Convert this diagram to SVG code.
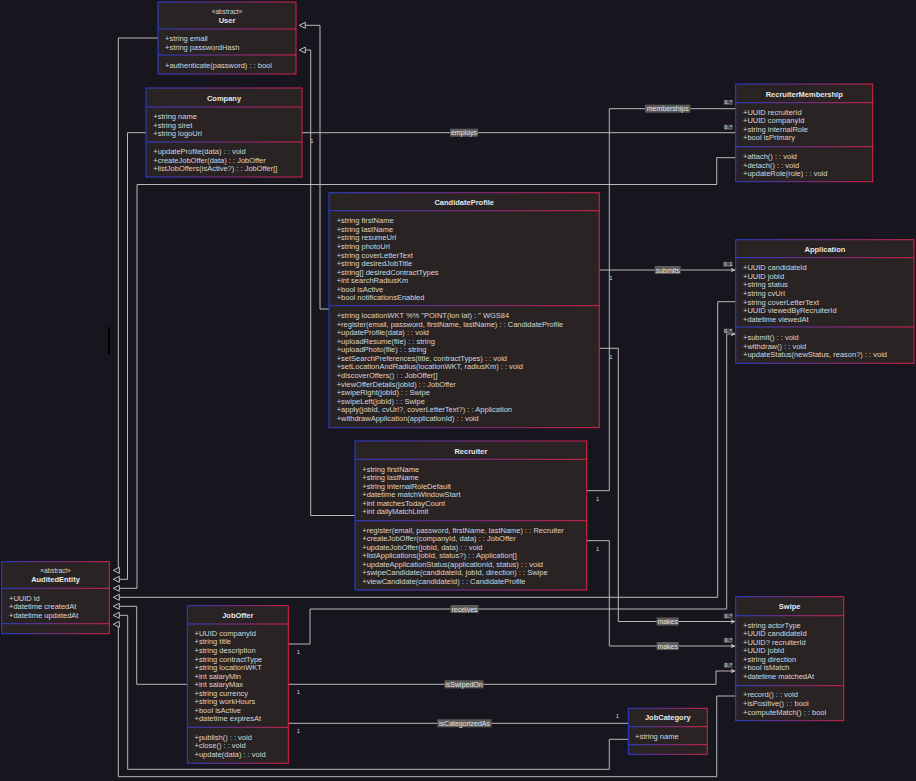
<svg xmlns="http://www.w3.org/2000/svg" width="916" height="781" viewBox="0 0 916 781">
<defs>
<linearGradient id="bd" x1="0" y1="0" x2="1" y2="0">
<stop offset="0" stop-color="#2c3ed6"/>
<stop offset="1" stop-color="#dc2048"/>
</linearGradient>
<marker id="ar" markerUnits="userSpaceOnUse" markerWidth="6" markerHeight="6" refX="5" refY="2.5" orient="auto">
<path d="M0,0 L5,2.5 L0,5 L1.5,2.5 z" fill="#c0c0c0"/>
</marker>
<path id="tri" d="M0,0 L6,-3 L6,3 z"/>
</defs>
<style>
.bg{fill:#17161f}
.box{fill:#2a2323;stroke:url(#bd);stroke-width:1}
.dv{fill:url(#bd)}
text{font-family:"Liberation Sans",Arial,sans-serif}
.t{font-size:7.5px;fill:#d6d6d6}
.h{font-size:7.5px;fill:#e8e8e8;font-weight:bold;text-anchor:middle}
.s{font-size:6.5px;fill:#d6d6d6;text-anchor:middle}
.c{fill:none;stroke:#b8b8b8;stroke-width:1}
.a{marker-end:url(#ar)}
.tr{fill:#17161f;stroke:#c0c0c0;stroke-width:1}
.lb{fill:#5a5a5a}
.lt{font-size:7px;fill:#e6e6e6;text-anchor:middle}
.mb{fill:#4a4a4a}
.mt{font-size:5px;fill:#e6e6e6;text-anchor:middle}
</style>
<rect class="bg" x="0" y="0" width="916" height="781"/>
<rect x="108" y="327" width="2" height="27" fill="#000"/>

<g id="connectors">
<path class="c" d="M329,309 L320,309 L320,25.3 L305,25.3"/>
<path class="c" d="M355,515.5 L310.7,515.5 L310.7,50 L305,50"/>
<path class="c" d="M158,38 L118.3,38 L118.3,570.3"/>
<path class="c" d="M146,132.7 L127.5,132.7 L127.5,579.3 L119,579.3"/>
<path class="c" d="M735.7,157.7 L716.7,157.7 L716.7,184.5 L137,184.5 L137,588.3 L119,588.3"/>
<path class="c" d="M735.7,301.7 L717.7,301.7 L717.7,597.3 L119,597.3"/>
<path class="c" d="M187.3,684.3 L136.7,684.3 L136.7,606.3 L119,606.3"/>
<path class="c" d="M628.3,739.3 L609.3,739.3 L609.3,769.3 L127.7,769.3 L127.7,615.3 L119,615.3"/>
<path class="c" d="M735.7,696 L716.7,696 L716.7,776.7 L118.3,776.7 L118.3,624.3"/>
<path class="c" d="M586.7,490.7 L609.3,490.7 L609.3,108.7 L735.7,108.7"/>
<path class="c" d="M302,132.7 L735.7,132.7"/>
<path class="c a" d="M599.3,270 L735.5,270"/>
<path class="c a" d="M599.3,348.3 L618.3,348.3 L618.3,621.5 L735.5,621.5"/>
<path class="c a" d="M586.7,540.7 L609.3,540.7 L609.3,646 L735.5,646"/>
<path class="c a" d="M288.3,644 L310,644 L310,609 L726.7,609 L726.7,334 L735.5,334"/>
<path class="c a" d="M288.3,684.3 L716,684.3 L716,671 L735.5,671"/>
<path class="c" d="M288.3,723.3 L628.3,723.3"/>
<use href="#tri" class="tr" x="299.3" y="25.3"/>
<use href="#tri" class="tr" x="299.3" y="50"/>
<use href="#tri" class="tr" x="113.3" y="570.3"/>
<use href="#tri" class="tr" x="113.3" y="579.3"/>
<use href="#tri" class="tr" x="113.3" y="588.3"/>
<use href="#tri" class="tr" x="113.3" y="597.3"/>
<use href="#tri" class="tr" x="113.3" y="606.3"/>
<use href="#tri" class="tr" x="113.3" y="615.3"/>
<use href="#tri" class="tr" x="113.3" y="624.3"/>
<rect class="lb" x="645" y="104.7" width="45.4" height="8"/><text class="lt" x="667.7" y="111.2">memberships</text>
<rect class="lb" x="450" y="128.7" width="28" height="8"/><text class="lt" x="464" y="135.2">employs</text>
<rect class="lb" x="654.7" y="266" width="26" height="8"/><text class="lt" x="667.7" y="272.5">submits</text>
<rect class="lb" x="656.7" y="617.5" width="22" height="8"/><text class="lt" x="667.7" y="624">makes</text>
<rect class="lb" x="656.7" y="642" width="22" height="8"/><text class="lt" x="667.7" y="648.5">makes</text>
<rect class="lb" x="450.5" y="605" width="28" height="8"/><text class="lt" x="464.5" y="611.5">receives</text>
<rect class="lb" x="444.5" y="680.3" width="39" height="8"/><text class="lt" x="464" y="686.8">isSwipedOn</text>
<rect class="lb" x="437.3" y="719.3" width="54.3" height="8"/><text class="lt" x="464.5" y="725.8">isCategorizedAs</text>
<rect class="mb" x="723.8" y="100" width="9" height="5"/><text class="mt" x="728.3" y="104.3">0..*</text>
<rect class="mb" x="723.8" y="124.8" width="9" height="5"/><text class="mt" x="728.3" y="129.1">0..*</text>
<rect class="mb" x="723.5" y="261.8" width="9" height="5"/><text class="mt" x="728" y="266.1">0..1</text>
<rect class="mb" x="723.5" y="328.5" width="9" height="5"/><text class="mt" x="728" y="332.8">0..*</text>
<rect class="mb" x="723.8" y="613.5" width="9" height="5"/><text class="mt" x="728.3" y="617.8">0..*</text>
<rect class="mb" x="723.8" y="638" width="9" height="5"/><text class="mt" x="728.3" y="642.3">0..*</text>
<rect class="mb" x="723.8" y="662.8" width="9" height="5"/><text class="mt" x="728.3" y="667.1">0..*</text>
<text class="mt" x="597.7" y="501">1</text>
<text class="mt" x="312" y="143.4">1</text>
<text class="mt" x="611" y="280">1</text>
<text class="mt" x="611" y="359.4">1</text>
<text class="mt" x="597.7" y="550.7">1</text>
<text class="mt" x="298.3" y="654.4">1</text>
<text class="mt" x="298.3" y="694">1</text>
<text class="mt" x="298.3" y="733.4">1</text>
<text class="mt" x="617.3" y="718.4">1</text>
</g>

<g id="User">
<rect class="box" x="158" y="2" width="138" height="72"/>
<text class="s" x="227" y="14.3">«abstract»</text>
<text class="h" x="227" y="23">User</text>
<rect class="dv" x="158" y="28.5" width="138" height="1"/>
<text class="t" x="165" y="40.6">+string email</text>
<text class="t" x="165" y="49.6">+string passwordHash</text>
<rect class="dv" x="158" y="54.5" width="138" height="1"/>
<text class="t" x="165" y="67.6">+authenticate(password) : : bool</text>
</g>

<g id="Company">
<rect class="box" x="146" y="88" width="156" height="89"/>
<text class="h" x="224" y="100.6">Company</text>
<rect class="dv" x="146" y="106.5" width="156" height="1"/>
<text class="t" x="153.3" y="119.1">+string name</text>
<text class="t" x="153.3" y="127.6">+string siret</text>
<text class="t" x="153.3" y="136.1">+string logoUrl</text>
<rect class="dv" x="146" y="141.5" width="156" height="1"/>
<text class="t" x="153.3" y="154.1">+updateProfile(data) : : void</text>
<text class="t" x="153.3" y="162.6">+createJobOffer(data) : : JobOffer</text>
<text class="t" x="153.3" y="171.1">+listJobOffers(isActive?) : : JobOffer[]</text>
</g>

<g id="RecruiterMembership">
<rect class="box" x="735.7" y="84" width="137" height="97.7"/>
<text class="h" x="804.2" y="96.6">RecruiterMembership</text>
<rect class="dv" x="735.7" y="102.2" width="137" height="1"/>
<text class="t" x="743" y="114.6">+UUID recruiterId</text>
<text class="t" x="743" y="123.2">+UUID companyId</text>
<text class="t" x="743" y="131.8">+string internalRole</text>
<text class="t" x="743" y="140.4">+bool isPrimary</text>
<rect class="dv" x="735.7" y="146.2" width="137" height="1"/>
<text class="t" x="743" y="158.9">+attach() : : void</text>
<text class="t" x="743" y="167.5">+detach() : : void</text>
<text class="t" x="743" y="176.1">+updateRole(role) : : void</text>
</g>

<g id="CandidateProfile">
<rect class="box" x="329" y="192.7" width="270.3" height="235"/>
<text class="h" x="464.2" y="204.9">CandidateProfile</text>
<rect class="dv" x="329" y="210.2" width="270.3" height="1"/>
<text class="t" x="336.7" y="223.3">+string firstName</text>
<text class="t" x="336.7" y="231.85">+string lastName</text>
<text class="t" x="336.7" y="240.4">+string resumeUrl</text>
<text class="t" x="336.7" y="248.95">+string photoUrl</text>
<text class="t" x="336.7" y="257.5">+string coverLetterText</text>
<text class="t" x="336.7" y="266.05">+string desiredJobTitle</text>
<text class="t" x="336.7" y="274.6">+string[] desiredContractTypes</text>
<text class="t" x="336.7" y="283.15">+int searchRadiusKm</text>
<text class="t" x="336.7" y="291.7">+bool isActive</text>
<text class="t" x="336.7" y="300.25">+bool notificationsEnabled</text>
<rect class="dv" x="329" y="305.2" width="270.3" height="1"/>
<text class="t" x="336.7" y="317.9">+string locationWKT %% "POINT(lon lat) : " WGS84</text>
<text class="t" x="336.7" y="326.5">+register(email, password, firstName, lastName) : : CandidateProfile</text>
<text class="t" x="336.7" y="335.1">+updateProfile(data) : : void</text>
<text class="t" x="336.7" y="343.6">+uploadResume(file) : : string</text>
<text class="t" x="336.7" y="352.2">+uploadPhoto(file) : : string</text>
<text class="t" x="336.7" y="360.8">+setSearchPreferences(title, contractTypes) : : void</text>
<text class="t" x="336.7" y="369.4">+setLocationAndRadius(locationWKT, radiusKm) : : void</text>
<text class="t" x="336.7" y="378">+discoverOffers() : : JobOffer[]</text>
<text class="t" x="336.7" y="386.5">+viewOfferDetails(jobId) : : JobOffer</text>
<text class="t" x="336.7" y="395.1">+swipeRight(jobId) : : Swipe</text>
<text class="t" x="336.7" y="403.7">+swipeLeft(jobId) : : Swipe</text>
<text class="t" x="336.7" y="412.3">+apply(jobId, cvUrl?, coverLetterText?) : : Application</text>
<text class="t" x="336.7" y="420.9">+withdrawApplication(applicationId) : : void</text>
</g>

<g id="Application">
<rect class="box" x="735.7" y="239.7" width="178.3" height="123.6"/>
<text class="h" x="824.9" y="251.6">Application</text>
<rect class="dv" x="735.7" y="257.2" width="178.3" height="1"/>
<text class="t" x="743" y="270.3">+UUID candidateId</text>
<text class="t" x="743" y="278.85">+UUID jobId</text>
<text class="t" x="743" y="287.4">+string status</text>
<text class="t" x="743" y="295.95">+string cvUrl</text>
<text class="t" x="743" y="304.5">+string coverLetterText</text>
<text class="t" x="743" y="313.05">+UUID viewedByRecruiterId</text>
<text class="t" x="743" y="321.6">+datetime viewedAt</text>
<rect class="dv" x="735.7" y="326.5" width="178.3" height="1"/>
<text class="t" x="743" y="340.3">+submit() : : void</text>
<text class="t" x="743" y="348.8">+withdraw() : : void</text>
<text class="t" x="743" y="357.3">+updateStatus(newStatus, reason?) : : void</text>
</g>

<g id="Recruiter">
<rect class="box" x="355" y="441" width="231.7" height="149"/>
<text class="h" x="470.9" y="453.6">Recruiter</text>
<rect class="dv" x="355" y="458.8" width="231.7" height="1"/>
<text class="t" x="362.3" y="471.6">+string firstName</text>
<text class="t" x="362.3" y="480.1">+string lastName</text>
<text class="t" x="362.3" y="488.6">+string internalRoleDefault</text>
<text class="t" x="362.3" y="497.1">+datetime matchWindowStart</text>
<text class="t" x="362.3" y="505.6">+int matchesTodayCount</text>
<text class="t" x="362.3" y="514.1">+int dailyMatchLimit</text>
<rect class="dv" x="355" y="520.2" width="231.7" height="1"/>
<text class="t" x="362.3" y="532.6">+register(email, password, firstName, lastName) : : Recruiter</text>
<text class="t" x="362.3" y="541.15">+createJobOffer(companyId, data) : : JobOffer</text>
<text class="t" x="362.3" y="549.7">+updateJobOffer(jobId, data) : : void</text>
<text class="t" x="362.3" y="558.25">+listApplications(jobId, status?) : : Application[]</text>
<text class="t" x="362.3" y="566.8">+updateApplicationStatus(applicationId, status) : : void</text>
<text class="t" x="362.3" y="575.35">+swipeCandidate(candidateId, jobId, direction) : : Swipe</text>
<text class="t" x="362.3" y="583.9">+viewCandidate(candidateId) : : CandidateProfile</text>
</g>

<g id="AuditedEntity">
<rect class="box" x="1.7" y="561.7" width="107.6" height="72"/>
<text class="s" x="55.5" y="573.3">«abstract»</text>
<text class="h" x="55.5" y="582.3">AuditedEntity</text>
<rect class="dv" x="1.7" y="587.8" width="107.6" height="1"/>
<text class="t" x="9" y="600.6">+UUID id</text>
<text class="t" x="9" y="609.3">+datetime createdAt</text>
<text class="t" x="9" y="617.9">+datetime updatedAt</text>
<rect class="dv" x="1.7" y="623.2" width="107.6" height="1"/>
</g>

<g id="JobOffer">
<rect class="box" x="187.3" y="605.7" width="101" height="157.6"/>
<text class="h" x="237.8" y="617.6">JobOffer</text>
<rect class="dv" x="187.3" y="623.5" width="101" height="1"/>
<text class="t" x="194.5" y="635.9">+UUID companyId</text>
<text class="t" x="194.5" y="644.4">+string title</text>
<text class="t" x="194.5" y="653">+string description</text>
<text class="t" x="194.5" y="661.5">+string contractType</text>
<text class="t" x="194.5" y="670.1">+string locationWKT</text>
<text class="t" x="194.5" y="678.6">+int salaryMin</text>
<text class="t" x="194.5" y="687.1">+int salaryMax</text>
<text class="t" x="194.5" y="695.7">+string currency</text>
<text class="t" x="194.5" y="704.2">+string workHours</text>
<text class="t" x="194.5" y="712.8">+bool isActive</text>
<text class="t" x="194.5" y="721.3">+datetime expiresAt</text>
<rect class="dv" x="187.3" y="726.8" width="101" height="1"/>
<text class="t" x="194.5" y="739.6">+publish() : : void</text>
<text class="t" x="194.5" y="748.2">+close() : : void</text>
<text class="t" x="194.5" y="756.8">+update(data) : : void</text>
</g>

<g id="Swipe">
<rect class="box" x="735.7" y="596.7" width="108" height="124"/>
<text class="h" x="789.7" y="609.3">Swipe</text>
<rect class="dv" x="735.7" y="615.2" width="108" height="1"/>
<text class="t" x="743" y="627.6">+string actorType</text>
<text class="t" x="743" y="636.15">+UUID candidateId</text>
<text class="t" x="743" y="644.7">+UUID? recruiterId</text>
<text class="t" x="743" y="653.25">+UUID jobId</text>
<text class="t" x="743" y="661.8">+string direction</text>
<text class="t" x="743" y="670.35">+bool isMatch</text>
<text class="t" x="743" y="678.9">+datetime matchedAt</text>
<rect class="dv" x="735.7" y="685.2" width="108" height="1"/>
<text class="t" x="743" y="697.3">+record() : : void</text>
<text class="t" x="743" y="705.9">+isPositive() : : bool</text>
<text class="t" x="743" y="714.5">+computeMatch() : : bool</text>
</g>

<g id="JobCategory">
<rect class="box" x="628.3" y="708.3" width="79" height="46"/>
<text class="h" x="667.8" y="720.3">JobCategory</text>
<rect class="dv" x="628.3" y="726.2" width="79" height="1"/>
<text class="t" x="635" y="738.6">+string name</text>
<rect class="dv" x="628.3" y="744.2" width="79" height="1"/>
</g>
</svg>
